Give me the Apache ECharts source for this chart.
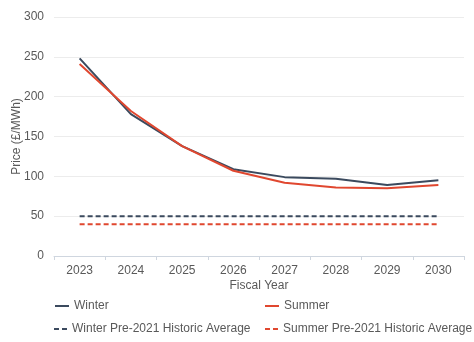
<!DOCTYPE html>
<html>
<head>
<meta charset="utf-8">
<script src="https://cdn.jsdelivr.net/npm/echarts@6/dist/echarts.min.js"></script>
<style>
  html, body { margin: 0; padding: 0; background: #ffffff; }
  #chart { width: 474px; height: 342px; }
</style>
</head>
<body>
<div id="chart"></div>
<script>
// Fiscal years on the category axis
const years = ['2023', '2024', '2025', '2026', '2027', '2028', '2029', '2030'];

// Forward prices (£/MWh) by season
const winter = [248, 178, 138, 109, 99, 97, 89, 95];
const summer = [241, 182, 138, 107, 92, 86, 85, 89];

// Pre-2021 historic averages (flat reference lines)
const winterHistoric = [50, 50, 50, 50, 50, 50, 50, 50];
const summerHistoric = [40, 40, 40, 40, 40, 40, 40, 40];

// Y-axis ticks
const yMin = 0, yMax = 300, yStep = 50;

const navy = '#3b4a5e';
const red = '#e0472f';
const textGray = '#595959';
const font = '"Liberation Sans", Arial, sans-serif';

// Legend glyphs: a short solid stroke and a two-dash stroke
const solidIcon = 'path://M0,0h14v2h-14z';
const dashIcon = 'path://M0,0h5v2h-5z M8,0h5v2h-5z';

const chart = echarts.init(document.getElementById('chart'), null, { renderer: 'canvas' });

function lineSeries(name, data, color, type) {
  return {
    name: name,
    type: 'line',
    data: data,
    symbol: 'none',
    smooth: false,
    lineStyle: { color: color, width: 2, type: type },
    itemStyle: { color: color },
    emphasis: { disabled: true }
  };
}

const legendText = { color: textGray, fontFamily: font, fontSize: 12, lineHeight: 14 };

function legendEntry(name, icon, left, top, width) {
  return {
    left: left, top: top, padding: 0,
    itemWidth: width, itemHeight: 2,
    icon: icon,
    textStyle: legendText,
    data: [name]
  };
}

chart.setOption({
  animation: false,
  textStyle: { fontFamily: font },
  grid: { left: 54, right: 10, top: 17, bottom: 86, outerBoundsMode: 'none', containLabel: false },
  legend: [
    legendEntry('Winter', solidIcon, 55, 299, 14),
    legendEntry('Summer', solidIcon, 265, 299, 14),
    legendEntry('Winter Pre-2021 Historic Average', dashIcon, 54, 322, 13),
    legendEntry('Summer Pre-2021 Historic Average', dashIcon, 265, 322, 13)
  ],
  xAxis: {
    type: 'category',
    data: years,
    boundaryGap: true,
    name: 'Fiscal Year',
    nameLocation: 'middle',
    nameGap: 24,
    nameMoveOverlap: false,
    nameTextStyle: { color: textGray, fontSize: 12, fontFamily: font },
    axisLine: { lineStyle: { color: '#cfd6df', width: 1 } },
    axisTick: { show: true, alignWithLabel: false, length: 4, lineStyle: { color: '#cfd6df' } },
    axisLabel: { color: textGray, fontSize: 12, margin: 9, fontFamily: font },
    splitLine: { show: false }
  },
  yAxis: {
    type: 'value',
    min: yMin, max: yMax, interval: yStep,
    name: 'Price (£/MWh)',
    nameLocation: 'middle',
    nameRotate: 90,
    nameGap: 31,
    nameMoveOverlap: false,
    nameTextStyle: { color: textGray, fontSize: 12, fontFamily: font },
    axisLine: { show: false },
    axisTick: { show: false },
    axisLabel: { color: textGray, fontSize: 12, margin: 10, fontFamily: font },
    splitLine: { lineStyle: { color: '#ececec', width: 1 } }
  },
  series: [
    lineSeries('Winter', winter, navy, 'solid'),
    lineSeries('Summer', summer, red, 'solid'),
    lineSeries('Winter Pre-2021 Historic Average', winterHistoric, navy, [5, 3]),
    lineSeries('Summer Pre-2021 Historic Average', summerHistoric, red, [5, 3])
  ]
});
</script>
</body>
</html>
